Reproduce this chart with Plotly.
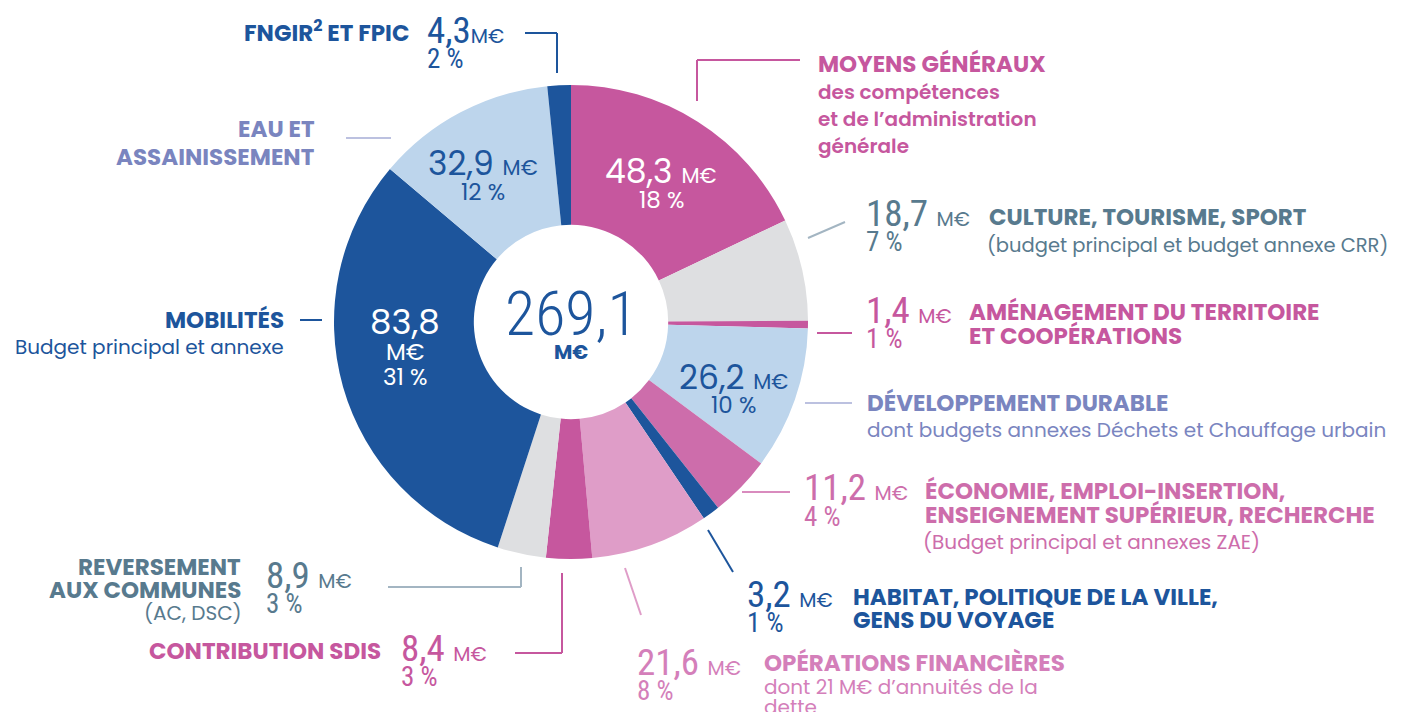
import plotly.graph_objects as go

# ---------------- data ----------------
categories = [
    "Moyens généraux", "Culture, tourisme, sport", "Aménagement du territoire et coopérations",
    "Développement durable", "Économie, emploi-insertion, enseignement supérieur, recherche",
    "Habitat, politique de la ville, gens du voyage", "Opérations financières",
    "Contribution SDIS", "Reversement aux communes", "Mobilités", "Eau et assainissement",
    "FNGIR et FPIC",
]
values_meur = [48.3, 18.7, 1.4, 26.2, 11.2, 3.2, 21.6, 8.4, 8.9, 83.8, 32.9, 4.3]
percents = [18, 7, 1, 10, 4, 1, 8, 3, 3, 31, 12, 2]
total_meur = 269.1

DARK_BLUE = "#1D559C"
MAGENTA = "#C6579E"
PINK = "#CD6DAB"
LIGHT_PINK = "#DF9DC8"
LIGHT_BLUE = "#BDD5EC"
LIGHT_GREY = "#DEDFE1"
SLATE = "#587A8E"
LAVENDER = "#7A85BF"
OPFIN_TXT = "#D47FBA"

slice_colors = [MAGENTA, LIGHT_GREY, MAGENTA, LIGHT_BLUE, PINK, DARK_BLUE, LIGHT_PINK,
                MAGENTA, LIGHT_GREY, DARK_BLUE, LIGHT_BLUE, DARK_BLUE]

# page body has an 8px margin: figure is drawn at (8, 8) of the window
OFF = 8
W, H = 1402 - OFF, 712 - OFF
SANS = "Poppins, Open Sans, sans-serif"
NUMFAM = "font-family:'Roboto Condensed','Liberation Sans Narrow','Noto Sans',sans-serif;font-stretch:condensed"


def fmt(v):
    return f"{v:.1f}".replace(".", ",")


def num(s, size, weight=400):
    return f"<span style=\"{NUMFAM};font-weight:{weight};font-size:{size}px\">{s}</span>"


def px(x, y):
    return (x - OFF) / W, 1 - (y - OFF) / H


# ---------------- figure ----------------
cx, cy, R = 571, 322, 237
x0, y0 = px(cx - R, cy + R)
x1, y1 = px(cx + R, cy - R)
fig = go.Figure(go.Pie(
    labels=categories, values=values_meur, sort=False, direction="clockwise", rotation=0,
    hole=0.41, marker=dict(colors=slice_colors, line=dict(width=0)),
    textinfo="none", hoverinfo="skip",
    domain=dict(x=[x0, x1], y=[y0, y1]),
))

ann = []


def txt(x, y, text, size, color, family=SANS, weight="normal", xanchor="left"):
    xp, yp = px(x, y)
    ann.append(dict(x=xp, y=yp, xref="paper", yref="paper", text=text, showarrow=False,
                    xanchor=xanchor, yanchor="middle", borderpad=0,
                    font=dict(size=size, color=color, family=family, weight=weight)))


shapes = []


def leader(points, color):
    for (a, b), (c, d) in zip(points[:-1], points[1:]):
        a0, b0 = px(a, b)
        a1, b1 = px(c, d)
        shapes.append(dict(type="line", xref="paper", yref="paper", x0=a0, y0=b0, x1=a1, y1=b1,
                           line=dict(color=color, width=2)))


def amount(x, y, i, color):
    txt(x, y, num(fmt(values_meur[i]) + " ", 37) + "M€", 20, color)
    txt(x, y + 29, num(f"{percents[i]} %", 27), 27, color)


def inside(x, y, i, color, size=33):
    txt(x, y, f"{fmt(values_meur[i])} <span style='font-size:21px'>M€</span>", size, color,
        xanchor="center")
    txt(x, y + 28, f"{percents[i]} %", 23, color, xanchor="center")


BOLD = 23
SUB = 20

# 0 Moyens généraux
leader([(697, 101), (697, 60), (800, 60)], MAGENTA)
txt(817, 64, "MOYENS GÉNÉRAUX", BOLD, MAGENTA, weight="bold")
txt(817, 92, "des compétences", SUB, MAGENTA, weight=600)
txt(817, 119, "et de l’administration", SUB, MAGENTA, weight=600)
txt(817, 146, "générale", SUB, MAGENTA, weight=600)
inside(661, 172, 0, "white")

# 1 Culture
leader([(808, 238), (845, 222)], "#A3B5C2")
amount(865, 213, 1, SLATE)
txt(988, 217, "CULTURE, TOURISME, SPORT", BOLD, SLATE, weight="bold")
txt(986, 245, "(budget principal et budget annexe CRR)", 19.5, SLATE)

# 2 Aménagement
leader([(817, 333), (852, 333)], MAGENTA)
amount(865, 310, 2, MAGENTA)
txt(968, 312, "AMÉNAGEMENT DU TERRITOIRE", BOLD, MAGENTA, weight="bold")
txt(968, 336, "ET COOPÉRATIONS", BOLD, MAGENTA, weight="bold")

# 3 Développement durable
leader([(805, 403), (852, 403)], "#BCC1E0")
txt(866, 403, "DÉVELOPPEMENT DURABLE", BOLD, LAVENDER, weight="bold")
txt(866, 430, "dont budgets annexes Déchets et Chauffage urbain", SUB, LAVENDER)
inside(733, 377, 3, DARK_BLUE)

# 4 Économie
leader([(742, 492), (790, 492)], "#D98BBE")
amount(803, 488, 4, PINK)
txt(924, 491, "ÉCONOMIE, EMPLOI-INSERTION,", BOLD, PINK, weight="bold")
txt(924, 515, "ENSEIGNEMENT SUPÉRIEUR, RECHERCHE", BOLD, PINK, weight="bold")
txt(922, 542, "(Budget principal et annexes ZAE)", SUB, PINK)

# 5 Habitat
leader([(708, 530), (733, 572)], DARK_BLUE)
amount(746, 594, 5, DARK_BLUE)
txt(852, 597, "HABITAT, POLITIQUE DE LA VILLE,", BOLD, DARK_BLUE, weight="bold")
txt(852, 620, "GENS DU VOYAGE", BOLD, DARK_BLUE, weight="bold")

# 6 Opérations financières
leader([(625, 568), (641, 615)], LIGHT_PINK)
amount(636, 662, 6, OPFIN_TXT)
txt(763, 663, "OPÉRATIONS FINANCIÈRES", BOLD, OPFIN_TXT, weight="bold")
txt(763, 687, "dont 21 M€ d’annuités de la", SUB, OPFIN_TXT)
txt(763, 707, "dette", SUB, OPFIN_TXT)

# 7 Contribution SDIS
leader([(562, 573), (562, 653), (515, 653)], MAGENTA)
txt(382, 651, "CONTRIBUTION SDIS", BOLD, MAGENTA, weight="bold", xanchor="right")
amount(400, 648, 7, MAGENTA)

# 8 Reversement aux communes
leader([(521, 567), (521, 587), (388, 587)], "#A3B5C2")
txt(242, 567, "REVERSEMENT", BOLD, SLATE, weight="bold", xanchor="right")
txt(242, 590, "AUX COMMUNES", BOLD, SLATE, weight="bold", xanchor="right")
txt(243, 613, "(AC, DSC)", SUB, SLATE, xanchor="right")
amount(265, 575, 8, SLATE)

# 9 Mobilités
leader([(300, 320), (322, 320)], DARK_BLUE)
txt(285, 320, "MOBILITÉS", BOLD, DARK_BLUE, weight="bold", xanchor="right")
txt(285, 347, "Budget principal et annexe", SUB, DARK_BLUE, xanchor="right")
txt(405, 322, fmt(values_meur[9]), 34, "white", xanchor="center")
txt(405, 352, "M€", 23, "white", xanchor="center")
txt(405, 377, f"{percents[9]} %", 23, "white", xanchor="center")

# 10 Eau et assainissement
leader([(346, 138), (391, 138)], "#BCC1E0")
txt(316, 129, "EAU ET", BOLD, LAVENDER, weight="bold", xanchor="right")
txt(316, 157, "ASSAINISSEMENT", BOLD, LAVENDER, weight="bold", xanchor="right")
inside(483, 164, 10, DARK_BLUE)

# 11 FNGIR
leader([(525, 33), (557, 33), (557, 73)], DARK_BLUE)
txt(410, 31, "FNGIR<sup>2</sup> ET FPIC", BOLD, DARK_BLUE, weight="bold", xanchor="right")
txt(426, 30, num(fmt(values_meur[11]), 37) + "M€", 20, DARK_BLUE)
txt(426, 59, num(f"{percents[11]} %", 27), 27, DARK_BLUE)

# centre
txt(571, 313, num(fmt(total_meur), 62, 300), 62, DARK_BLUE, xanchor="center")
txt(571, 352, "M€", 20, DARK_BLUE, weight="bold", xanchor="center")

fig.update_layout(
    width=W, height=H, margin=dict(l=0, r=0, t=0, b=0),
    paper_bgcolor="white", plot_bgcolor="white", showlegend=False,
    annotations=ann, shapes=shapes,
)
fig.write_html("out.html")
